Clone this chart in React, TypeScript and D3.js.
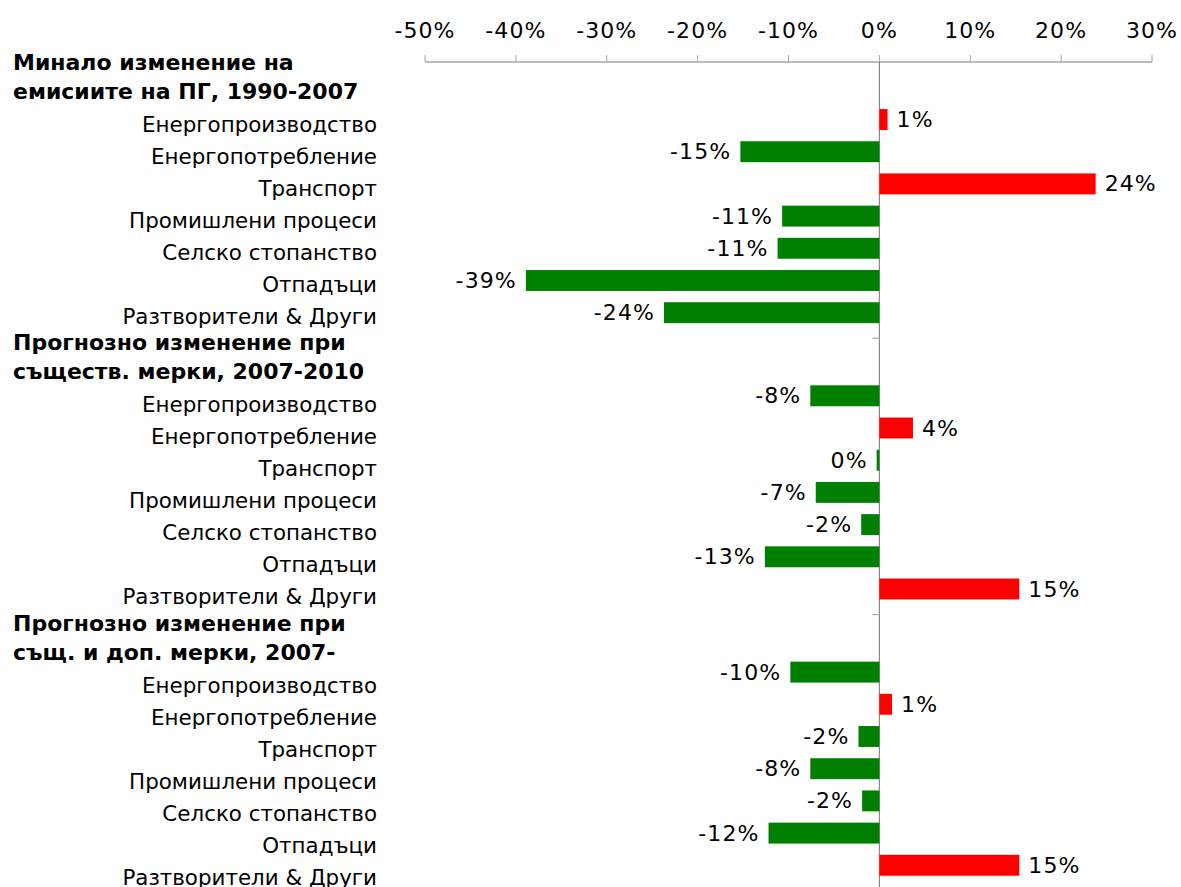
import React from "react";
import * as d3 from "d3";

const groupTitles: string[][] = [
  ["Минало изменение на", "емисиите на ПГ, 1990-2007"],
  ["Прогнозно изменение при", "съществ. мерки, 2007-2010"],
  ["Прогнозно изменение при", "същ. и доп. мерки, 2007-"],
];
const groupKeys = ["past", "existing", "additional"];
const categories = [
  "Енергопроизводство",
  "Енергопотребление",
  "Транспорт",
  "Промишлени процеси",
  "Селско стопанство",
  "Отпадъци",
  "Разтворители & Други",
];
const pastValues = [0.009, -0.153, 0.238, -0.107, -0.112, -0.389, -0.237];
const existingValues = [-0.076, 0.037, -0.003, -0.07, -0.02, -0.126, 0.154];
const additionalValues = [-0.098, 0.014, -0.023, -0.076, -0.019, -0.122, 0.154];
const xTicks = [-0.5, -0.4, -0.3, -0.2, -0.1, 0, 0.1, 0.2, 0.3];

const seriesValues = [pastValues, existingValues, additionalValues];

const W = 1181;
const H = 887;
const FONT = "'DejaVu Sans', Verdana, sans-serif";
const FS_CAT = 21.4;
const FS_NUM = 22;
const LS_NUM = 1.1;
const FS_HEAD = 22;

const fmt = d3
  .formatLocale({ decimal: ".", thousands: ",", grouping: [3], currency: ["", ""], minus: "-" })
  .format(".0%");

export default function App() {
  const x = d3.scaleLinear().domain([-0.5, 0.3]).range([425, 1152]);
  const axisY = 62;
  const groupPitch = 276.3;
  const yGroup = d3
    .scaleBand<string>()
    .domain(groupKeys)
    .range([axisY, axisY + groupPitch * 3]);
  const yItem = d3
    .scaleBand<string>()
    .domain(categories)
    .range([41.4, 41.4 + 7 * 32.2])
    .paddingInner(0.35)
    .paddingOuter(0.175);

  // label layout (text column)
  const labelGroupPitch = 280.5;
  const yLabelGroup = d3
    .scaleBand<string>()
    .domain(groupKeys)
    .range([62, 62 + labelGroupPitch * 3]);
  const yLabelItem = d3.scalePoint<string>().domain(categories).range([62, 62 + 6 * 32]);

  const x0 = x(0);

  return (
    <svg
      width={W}
      height={H}
      style={{ position: "fixed", left: 0, top: 0, background: "#fff" }}
      fontFamily={FONT}
    >
      <rect x={0} y={0} width={W} height={H} fill="#fff" />
      {/* horizontal value axis */}
      <line x1={x(-0.5)} x2={x(0.3)} y1={axisY} y2={axisY} stroke="#a6a6a6" strokeWidth={1.5} />
      {xTicks.map((t) => (
        <g key={t}>
          <line x1={x(t)} x2={x(t)} y1={axisY} y2={axisY - 7} stroke="#a6a6a6" strokeWidth={1} />
          <text
            x={x(t)}
            y={30}
            textAnchor="middle"
            dominantBaseline="central"
            fontSize={FS_NUM}
            letterSpacing={LS_NUM}
            fill="#000"
          >
            {fmt(t)}
          </text>
        </g>
      ))}
      {/* vertical category axis */}
      <line x1={x0} x2={x0} y1={axisY} y2={H} stroke="#888" strokeWidth={1.2} />
      {groupKeys.map((g) => (
        <line
          key={"t" + g}
          x1={x0 - 7}
          x2={x0}
          y1={(yGroup(g) as number) + yGroup.bandwidth()}
          y2={(yGroup(g) as number) + yGroup.bandwidth()}
          stroke="#a6a6a6"
          strokeWidth={1.2}
        />
      ))}
      {/* bars */}
      {groupKeys.map((g, gi) =>
        seriesValues[gi].map((v, i) => {
          const c = categories[i];
          const y = (yGroup(g) as number) + (yItem(c) as number);
          const bw = yItem.bandwidth();
          const xa = x(Math.min(0, v));
          const xb = x(Math.max(0, v));
          const neg = v < 0;
          return (
            <g key={g + c}>
              <rect
                x={xa}
                y={y}
                width={Math.max(xb - xa, 1)}
                height={bw}
                fill={neg ? "#008000" : "#ff0000"}
              />
              <text
                x={neg ? xa - 9 : xb + 9}
                y={y + bw / 2}
                textAnchor={neg ? "end" : "start"}
                dominantBaseline="central"
                fontSize={FS_NUM}
                letterSpacing={LS_NUM}
                fill="#000"
              >
                {fmt(v)}
              </text>
            </g>
          );
        })
      )}
      {/* category text column */}
      {groupKeys.map((g, gi) => {
        const gy = yLabelGroup(g) as number;
        return (
          <g key={"l" + g}>
            {groupTitles[gi].map((line, li) => (
              <text
                key={li}
                x={13}
                y={gy + li * 29}
                dominantBaseline="central"
                fontSize={FS_HEAD}
                fontWeight="bold"
                fill="#000"
              >
                {line}
              </text>
            ))}
            {categories.map((c) => (
              <text
                key={c}
                x={377}
                y={gy + (yLabelItem(c) as number)}
                textAnchor="end"
                dominantBaseline="central"
                fontSize={FS_CAT}
                fill="#000"
              >
                {c}
              </text>
            ))}
          </g>
        );
      })}
    </svg>
  );
}
